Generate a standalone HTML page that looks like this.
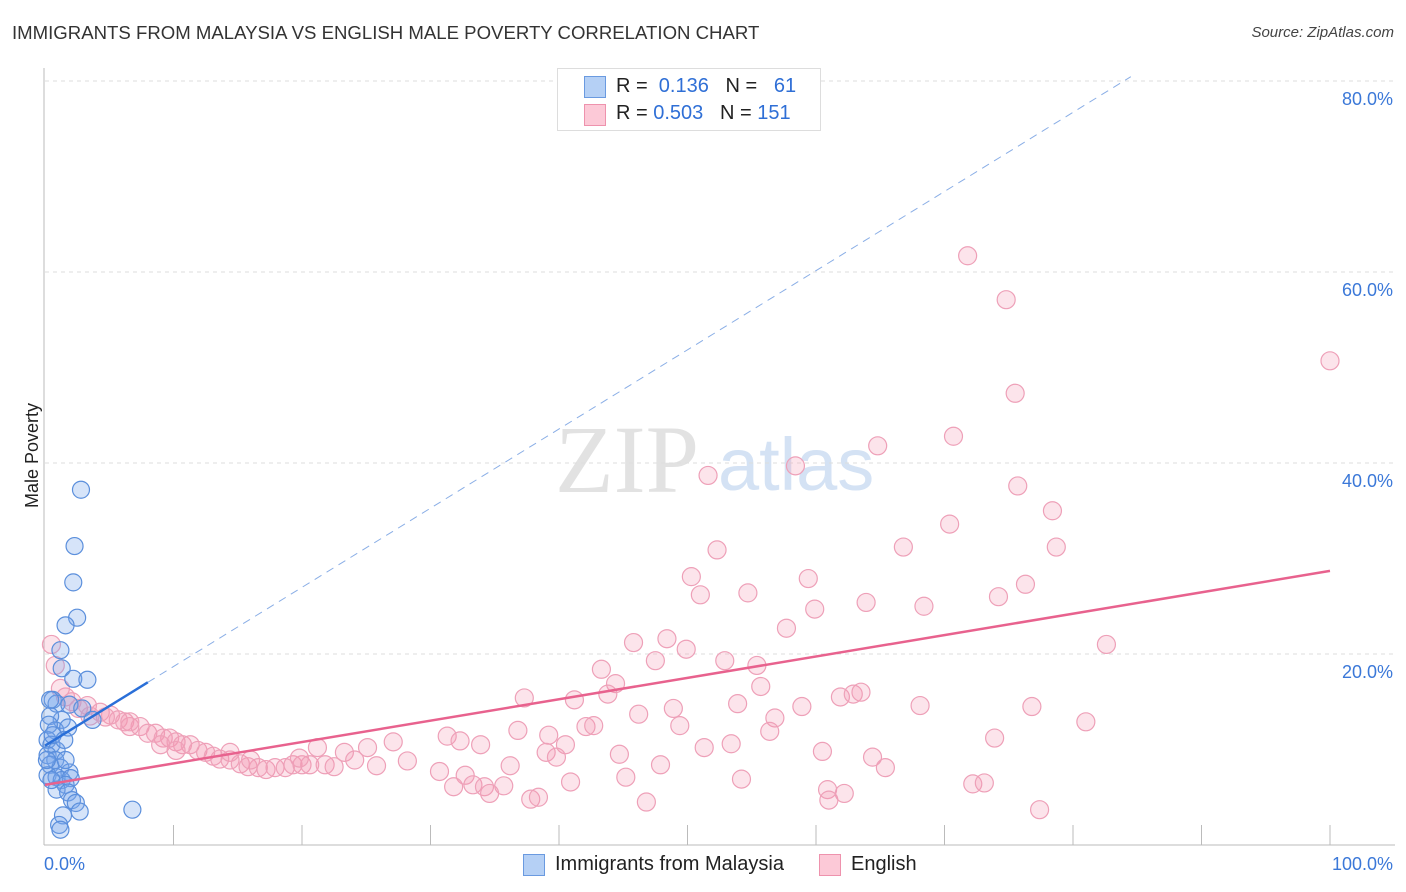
<!DOCTYPE html>
<html><head><meta charset="utf-8"><style>
body{margin:0;background:#fff;font-family:"Liberation Sans",sans-serif;}
#wrap{position:relative;width:1406px;height:892px;overflow:hidden;}
.t{position:absolute;white-space:nowrap;}
</style></head><body>
<div id="wrap">
<div class="t" style="left:12px;top:22px;font-size:18.6px;color:#333;">IMMIGRANTS FROM MALAYSIA VS ENGLISH MALE POVERTY CORRELATION CHART</div>
<div class="t" style="right:12px;top:24px;font-size:15px;color:#444;font-style:italic;">Source: ZipAtlas.com</div>
<div class="t" style="left:-20px;top:445px;font-size:18px;color:#222;transform:rotate(-90deg);">Male Poverty</div>
<svg id="svg" width="1406" height="892" style="position:absolute;left:0;top:0"></svg>
<div style="position:absolute;left:557px;top:68px;width:262px;height:61px;border:1px solid #ddd;background:#fff;font-size:20px;">
 <div style="position:absolute;left:26px;top:7px;width:20px;height:20px;background:#b5d0f5;border:1px solid #6a9ae0;"></div>
 <div class="t" style="left:58px;top:6px;color:#222;">R = &nbsp;<span style="color:#2f6fd6">0.136</span>&nbsp;&nbsp;&nbsp;N = &nbsp;&nbsp;<span style="color:#2f6fd6">61</span></div>
 <div style="position:absolute;left:26px;top:35px;width:20px;height:20px;background:#fcc9d7;border:1px solid #ee92ad;"></div>
 <div class="t" style="left:58px;top:33px;color:#222;">R = <span style="color:#2f6fd6">0.503</span>&nbsp;&nbsp;&nbsp;N = <span style="color:#2f6fd6">151</span></div>
</div>
<div style="position:absolute;left:523px;top:854px;width:20px;height:20px;background:#b5d0f5;border:1px solid #6a9ae0;"></div>
<div class="t" style="left:555px;top:853px;font-size:20px;color:#222;">Immigrants from Malaysia</div>
<div style="position:absolute;left:819px;top:854px;width:20px;height:20px;background:#fcc9d7;border:1px solid #ee92ad;"></div>
<div class="t" style="left:851px;top:853px;font-size:20px;color:#222;">English</div>
</div>
<script>
const yTicks=[20,40,60,80];
const xTickLabels=["0.0%","100.0%"];
const englishX=[71.8,74.8,100,75.5,64.8,70.7,51.6,58.4,75.7,70.4,78.4,78.7,52.3,66.8,50.3,59.4,51,54.7,76.3,74.2,63.9,68.4,59.9,57.7,48.4,45.8,49.9,82.6,47.5,52.9,55.4,43.3,44.4,55.7,43.8,37.3,41.2,61.9,62.9,63.5,53.9,58.9,68.1,76.8,48.9,46.2,56.8,81,49.4,42.1,42.7,36.8,56.4,39.2,31.3,32.3,73.9,27.1,40.5,33.9,53.4,51.3,60.5,39,44.7,25.1,23.3,21.2,39.8,64.4,36.2,47.9,28.2,65.4,30.7,25.8,32.7,45.2,54.2,40.9,31.8,33.3,34.2,35.7,34.6,72.2,73.1,60.9,62.2,61,37.8,38.4,46.8,77.4,
0.5,0.8,1.2,1.6,2.1,2.6,3.3,4.3,5.1,5.7,6.2,6.6,7.4,8,8.6,9.2,9.7,10.2,10.7,11.3,11.9,12.5,13.1,13.6,14.4,15.2,15.8,16.6,17.2,17.9,18.7,19.3,20,20.6,21.8,22.5,24.1,19.8,14.4,16,10.2,9,6.6,4.7,3.5];
const englishY=[61.7,57.1,50.7,47.3,41.8,42.8,38.7,39.7,37.6,33.6,35.0,31.2,30.9,31.2,28.1,27.9,26.2,26.4,27.3,26.0,25.4,25.0,24.7,22.7,21.6,21.2,20.5,21.0,19.3,19.3,18.8,18.4,16.9,16.6,15.8,15.4,15.2,15.5,15.8,16.0,14.8,14.5,14.6,14.5,14.3,13.7,13.3,12.9,12.5,12.4,12.5,12.0,11.9,11.5,11.4,10.9,11.2,10.8,10.5,10.5,10.6,10.2,9.8,9.7,9.5,10.2,9.7,10.2,9.2,9.2,8.3,8.4,8.8,8.1,7.7,8.3,7.3,7.1,6.9,6.6,6.1,6.3,6.1,6.2,5.4,6.4,6.5,5.8,5.4,4.7,4.8,5.0,4.5,3.7,
21,18.8,16.4,15.5,15,14.3,14.6,13.9,13.6,13.1,12.9,12.4,12.4,11.7,11.7,11.2,11.2,10.8,10.5,10.5,9.9,9.7,9.3,9.0,8.9,8.5,8.2,8.1,7.9,8.1,8.1,8.4,8.4,8.4,8.4,8.2,8.9,9.1,9.7,8.9,9.9,10.5,12.9,13.4,13.5];
const malaysiaX=[2.8,2.3,2.2,2.5,1.6,1.2,1.3,2.2,3.3,0.6,0.9,1.9,2.9,3.7,1.3,0.4,0.8,1.8,0.2,0.5,0.9,0.2,0.8,0.4,1.2,1.9,0.2,0.9,1.3,2,1.6,0.9,1.8,2.1,2.4,2.7,1.4,1.1,1.2,6.8,0.4,0.3,0.6,0.15,1.5,1.6,0.5];
const malaysiaY=[37.2,31.3,27.5,23.8,23,20.4,18.5,17.4,17.3,15.2,14.8,14.7,14.3,13.1,13.1,13.5,12.0,12.3,11,10.5,9.9,9.4,8.9,8.4,8.1,7.6,7.3,7.1,6.8,7.0,6.3,5.8,5.5,4.7,4.4,3.5,3.1,2.1,1.6,3.7,15.2,12.6,11.5,8.9,11,8.9,6.8];
const englishTrend=[6.3,28.7];
const malaysiaTrend=[10.4,0.829];
const X0=45,X1=1330,Y0=845,YS=9.55;
const sx=v=>X0+(X1-X0)*v/100, sy=v=>Y0-v*YS;
const svg=document.getElementById('svg');const NS='http://www.w3.org/2000/svg';
function mk(t,a){const e=document.createElementNS(NS,t);for(const k in a)e.setAttribute(k,a[k]);svg.appendChild(e);return e;}
let w=mk('text',{x:555,y:492,'font-size':96,'font-family':'Liberation Serif, serif',fill:'#e2e2e2'});w.textContent='ZIP';


w=mk('text',{x:718,y:490,'font-size':74,'font-family':'Liberation Sans, sans-serif',fill:'#d4e2f4'});w.textContent='atlas';


yTicks.forEach(v=>{
 const g=mk('line',{x1:X0,x2:1395,y1:sy(v),y2:sy(v),stroke:'#ddd','stroke-dasharray':'4,4'});
 
 
 const t=mk('text',{x:1393,y:sy(v)+24,'text-anchor':'end','font-size':18,fill:'#3b78d8','font-family':'Liberation Sans, sans-serif'});t.textContent=v.toFixed(1)+'%';
 
 
});
let ax=mk('line',{x1:44,x2:44,y1:68,y2:845,stroke:'#bbb'});


ax=mk('line',{x1:44,x2:1395,y1:845,y2:845,stroke:'#bbb'});


for(let i=1;i<=10;i++){const t=mk('line',{x1:sx(i*10),x2:sx(i*10),y1:825,y2:845,stroke:'#bbb'});
 
 }
[[0,'start',44],[100,'end',1393]].forEach((d,i)=>{const t=mk('text',{x:d[2],y:870,'text-anchor':d[1],'font-size':18,fill:'#3b78d8','font-family':'Liberation Sans, sans-serif'});t.textContent=xTickLabels[i];
 
 });
englishX.forEach((x,i)=>{const c=mk('circle',{cx:sx(x),cy:sy(englishY[i]),r:9,fill:'rgba(245,150,178,0.26)',stroke:'#eea0b8','stroke-width':1.2});
 
 });
malaysiaX.forEach((x,i)=>{const c=mk('circle',{cx:sx(x),cy:sy(malaysiaY[i]),r:8.5,fill:'rgba(120,165,235,0.3)',stroke:'#5b8fdc','stroke-width':1.2});
 
 });
let l=mk('line',{x1:sx(0),y1:sy(englishTrend[0]),x2:sx(100),y2:sy(englishTrend[1]),stroke:'#e8628e','stroke-width':2.5});


l=mk('line',{x1:sx(8),y1:sy(malaysiaTrend[0]+8*malaysiaTrend[1]),x2:sx(84.5),y2:sy(malaysiaTrend[0]+84.5*malaysiaTrend[1]),stroke:'#8aaee6','stroke-width':1,'stroke-dasharray':'8,6'});


l=mk('line',{x1:sx(0),y1:sy(malaysiaTrend[0]),x2:sx(8),y2:sy(malaysiaTrend[0]+8*malaysiaTrend[1]),stroke:'#2a6fd8','stroke-width':2.5});


</script>
</body></html>
